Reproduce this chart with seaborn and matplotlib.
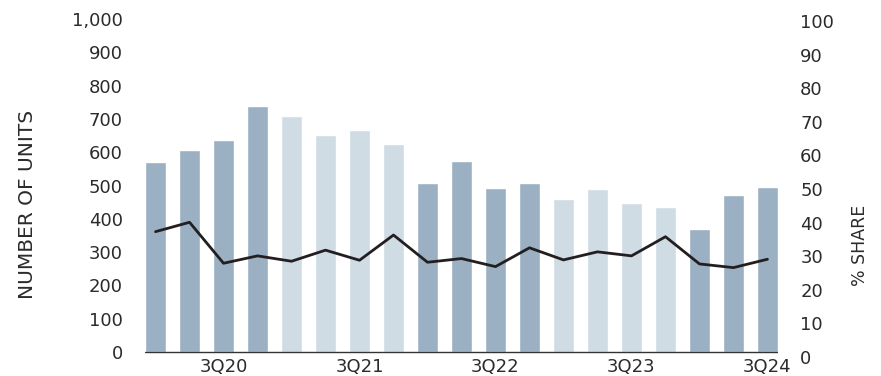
import numpy as np
import pandas as pd
import matplotlib
matplotlib.use("Agg")
import matplotlib.pyplot as plt
import seaborn as sns

quarters = ["1Q20", "2Q20", "3Q20", "4Q20",
            "1Q21", "2Q21", "3Q21", "4Q21",
            "1Q22", "2Q22", "3Q22", "4Q22",
            "1Q23", "2Q23", "3Q23", "4Q23",
            "1Q24", "2Q24", "3Q24"]
units = [571, 607, 637, 739,
         709, 652, 667, 625,
         508, 574, 493, 508,
         459, 490, 447, 435,
         369, 471, 496]
share_pct = [37.3, 40.1, 27.9, 30.1,
             28.5, 31.8, 28.8, 36.3,
             28.2, 29.3, 26.9, 32.5,
             28.9, 31.3, 30.1, 35.8,
             27.7, 26.6, 29.1]
shown_ticks = ["3Q20", "3Q21", "3Q22", "3Q23", "3Q24"]

DARK = "#9BB1C3"
LIGHT = "#CFDCE4"
TEXT = "#2b2b2b"

df = pd.DataFrame({"quarter": quarters, "units": units, "share": share_pct})
df["year"] = "20" + df["quarter"].str[-2:]
year_colors = {"2020": DARK, "2021": LIGHT, "2022": DARK, "2023": LIGHT, "2024": DARK}

sns.set_style("white")
plt.rcParams["font.family"] = ["DejaVu Sans"]
plt.rcParams["font.size"] = 13

W, H = 881, 376
AX_L, AX_R, AX_T, AX_B = 145, 778, 19, 357
fig = plt.figure(figsize=(W / 100, H / 100), dpi=100)
ax = fig.add_axes([AX_L / W, (H - AX_B) / H, (AX_R - AX_L) / W, (AX_B - AX_T) / H])

sns.barplot(data=df, x="quarter", y="units", hue="year", palette=year_colors,
            dodge=False, width=0.62, saturation=1, legend=False, ax=ax)

ax.set_xlim(-0.31, len(quarters) - 1 + 0.31)
ax.set_ylim(-15, 1000)
ax.set_yticks(np.arange(0, 1001, 100))
ax.set_yticklabels([f"{v:,}" for v in range(0, 1001, 100)])
ax.axhline(0, color="#333333", lw=1.0, zorder=5)

tick_pos = [quarters.index(q) for q in shown_ticks]
ax.set_xticks(tick_pos)
ax.set_xticklabels(shown_ticks)
ax.set_xlabel("")
ax.set_ylabel("NUMBER OF UNITS", color=TEXT, fontsize=14.5)
ax.yaxis.set_label_coords(-(AX_L - 37) / (AX_R - AX_L), (AX_B - 204) / (AX_B - AX_T))
ax.tick_params(axis="y", length=0, pad=16, colors=TEXT, labelsize=13)
ax.tick_params(axis="x", length=0, pad=0.5, colors=TEXT, labelsize=13)
for s in ax.spines.values():
    s.set_visible(False)

ax2 = ax.twinx()
sns.lineplot(x=np.arange(len(quarters)), y=df["share"].to_numpy(), color="#231F20",
             lw=2.0, ax=ax2)
ax2.set_ylim(0, 100.6)
ax2.set_yticks(np.arange(0, 101, 10))
ax2.set_ylabel("% SHARE", color=TEXT, fontsize=12.5)
ax2.yaxis.set_label_coords(1 + (851 - AX_R) / (AX_R - AX_L), (AX_B - 245) / (AX_B - AX_T))
ax2.tick_params(axis="y", length=0, pad=16, colors=TEXT, labelsize=13)
for s in ax2.spines.values():
    s.set_visible(False)

fig.savefig("out.png", dpi=100, facecolor="white")
